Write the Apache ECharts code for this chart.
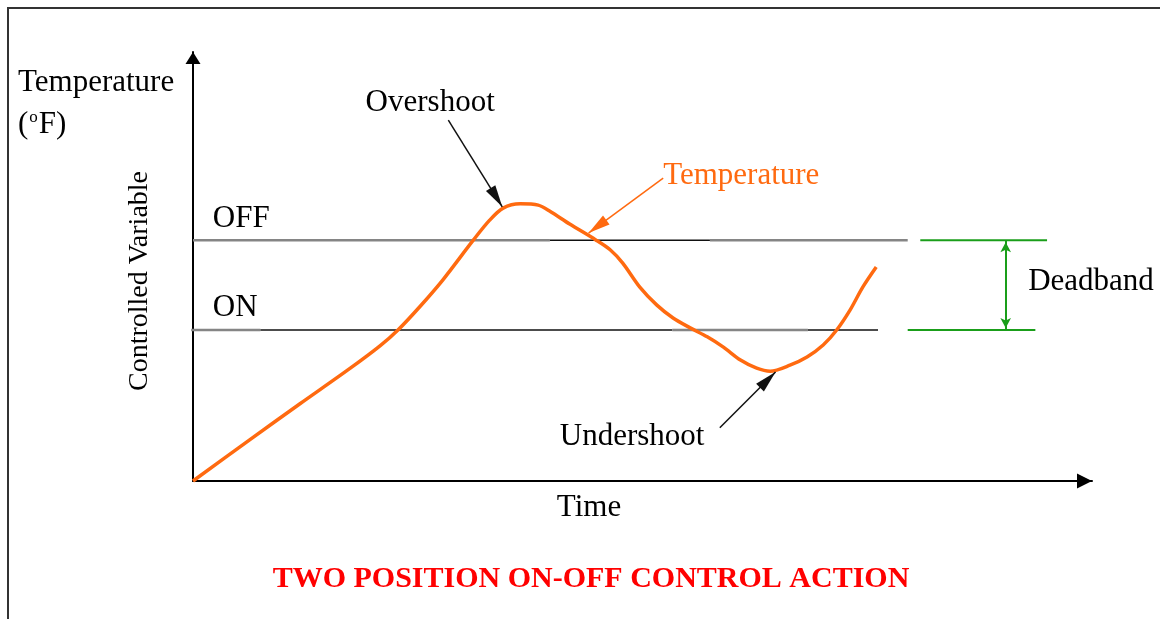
<!DOCTYPE html>
<html>
<head>
<meta charset="utf-8">
<script src="https://cdn.jsdelivr.net/npm/echarts@6/dist/echarts.min.js"></script>
<style>
html,body{margin:0;padding:0;background:#fff;}
#chart{width:1160px;height:619px;}
</style>
</head>
<body>
<div id="chart"></div>
<script>
// ---- data (arbitrary units: time 0..100, temperature 0..100) ----
const curveTime = [0, 6.3, 11.9, 17.5, 20.8, 22.8, 25.3, 27.8, 31.2, 33.0, 34.5, 36.4, 38.4, 39.7, 41.9, 44.8, 46.4, 47.8, 49.7, 51.6, 53.4, 55.3, 57.2, 59.0, 60.9, 62.7, 64.2, 66.4, 68.3, 70.1, 71.6, 73.1, 74.5, 76.0];
const curveTemp = [0, 9.6, 18.0, 26.3, 31.5, 35.2, 40.8, 46.9, 56.2, 60.8, 63.6, 64.6, 64.3, 62.9, 59.9, 56.2, 53.9, 50.8, 45.2, 41.0, 38.0, 35.7, 33.6, 31.2, 28.2, 26.3, 25.6, 27.0, 28.9, 31.7, 35.2, 39.9, 45.2, 49.9];

const offLevel = 56.1;
const onLevel = 35.2;
// break points along each set-point line (scan shading alternates grey / black)
const offBreaks = [0, 39.7, 57.5, 79.5];
const onBreaks = [-0.2, 7.5, 53.3, 68.4, 76.2];

// deadband marker
const deadbandOffSpan = [80.9, 95.0];
const deadbandOnSpan = [79.5, 93.7];
const deadbandArrowX = 90.4;

// annotation arrows: [fromX, fromY, toX, toY]
const overshootArrow = [28.4, 84.1, 34.4, 63.9];
const temperatureArrow = [52.3, 70.6, 44.0, 57.8];
const undershootArrow = [58.6, 12.4, 64.8, 25.4];

// annotation texts anchored in data units
const noteTexts = ['Overshoot', 'Temperature', 'Undershoot', 'OFF', 'ON', 'Deadband'];
const noteX = [19.2, 52.3, 40.8, 2.2, 2.2, 92.9];
const noteY = [88.1, 71.1, 10.3, 61.1, 40.3, 46.4];

const yTitle = 'Temperature';
const yName = 'Controlled Variable';
const xName = 'Time';
const chartTitle = 'TWO POSITION ON-OFF CONTROL ACTION';

// ---- build ----
const FONT = "'Liberation Serif', 'Times New Roman', serif";
const ORANGE = '#ff6a10';
const GREEN = '#1a9e1a';
const GREY = '#858585';
const BLACK = '#111';

const series = [];

function hSegs(breaks, level, startGrey) {
  for (let i = 0; i < breaks.length - 1; i++) {
    const grey = (i % 2 === 0) === startGrey;
    series.push({
      type: 'line', silent: true, symbol: 'none',
      data: [[breaks[i], level], [breaks[i + 1], level]],
      lineStyle: { color: grey ? GREY : BLACK, width: grey ? 2.5 : 1.5 },
      z: 2
    });
  }
}
hSegs(offBreaks, offLevel, true);
hSegs(onBreaks, onLevel, true);

// deadband green lines
series.push({
  type: 'line', silent: true, symbol: 'none',
  data: [[deadbandOffSpan[0], offLevel], [deadbandOffSpan[1], offLevel]],
  lineStyle: { color: GREEN, width: 2 }
});
series.push({
  type: 'line', silent: true, symbol: 'none',
  data: [[deadbandOnSpan[0], onLevel], [deadbandOnSpan[1], onLevel]],
  lineStyle: { color: GREEN, width: 2 }
});

// temperature curve
series.push({
  type: 'line', silent: true, symbol: 'none', smooth: 0.3,
  data: curveTime.map((t, i) => [t, curveTemp[i]]),
  lineStyle: { color: ORANGE, width: 3.5 },
  z: 5
});

function arrowItem(a, color, size) {
  return [
    { coord: [a[0], a[1]], symbol: 'none', lineStyle: { color: color, width: 1.5, type: 'solid' } },
    { coord: [a[2], a[3]], symbol: 'triangle', symbolSize: size, symbolOffset: [0, '50%'] }
  ];
}

// annotation arrows + deadband double arrow (markLine on an empty carrier series)
series.push({
  type: 'line', data: [], silent: true,
  markLine: {
    silent: true, animation: false,
    label: { show: false },
    symbol: ['none', 'triangle'],
    data: [
      arrowItem(overshootArrow, BLACK, [11, 22]),
      arrowItem(temperatureArrow, ORANGE, [11, 22]),
      arrowItem(undershootArrow, BLACK, [11, 22]),
      [
        { coord: [deadbandArrowX, offLevel], symbol: 'arrow', symbolSize: [8, 10], symbolOffset: [0, '20%'], lineStyle: { color: GREEN, width: 2, type: 'solid' } },
        { coord: [deadbandArrowX, onLevel], symbol: 'arrow', symbolSize: [8, 10], symbolOffset: [0, '20%'] }
      ]
    ],
    z: 6
  }
});

// annotation texts
series.push({
  type: 'scatter', silent: true, symbolSize: 0, clip: false,
  itemStyle: { opacity: 1 },
  data: noteTexts.map((txt, i) => ({
    value: [noteX[i], noteY[i]],
    label: {
      show: true, formatter: txt, position: [0, 0],
      align: 'left', verticalAlign: 'middle',
      fontFamily: FONT, fontSize: 31,
      color: txt === 'Temperature' ? ORANGE : '#000'
    }
  })),
  z: 7
});

const option = {
  animation: false,
  backgroundColor: '#fff',
  grid: { left: 193, right: 68, top: 52, bottom: 138, containLabel: false },
  xAxis: {
    type: 'value', min: 0, max: 100,
    splitLine: { show: false }, axisTick: { show: false }, axisLabel: { show: false },
    axisLine: { show: true, onZero: false, symbol: ['none', 'triangle'], symbolSize: [15, 15], symbolOffset: [0, -7.5], lineStyle: { color: '#000', width: 2 } }
  },
  yAxis: {
    type: 'value', min: 0, max: 100,
    splitLine: { show: false }, axisTick: { show: false }, axisLabel: { show: false },
    axisLine: { show: true, onZero: false, symbol: ['none', 'triangle'], symbolSize: [15, 12], symbolOffset: [0, -6], lineStyle: { color: '#000', width: 2 } }
  },
  graphic: [
    { type: 'rect', silent: true, shape: { x: 8, y: 8, width: 1300, height: 800 }, style: { fill: 'none', stroke: '#333', lineWidth: 2 } },
    { type: 'text', silent: true, x: 18, y: 83, style: { text: yTitle, font: "31px " + FONT, fill: '#000', textVerticalAlign: 'middle' } },
    { type: 'text', silent: true, x: 18, y: 125, style: {
        text: '({s|o}F)', font: "31px " + FONT, fill: '#000', textVerticalAlign: 'middle',
        rich: { s: { fontSize: 17, fontFamily: 'Liberation Serif', verticalAlign: 'top', padding: [0, 1, 10, 1] } }
      } },
    { type: 'text', silent: true, x: 140, y: 281, rotation: Math.PI / 2, style: { text: yName, font: "28px " + FONT, fill: '#000', textAlign: 'center', textVerticalAlign: 'middle' } },
    { type: 'text', silent: true, x: 589, y: 508, style: { text: xName, font: "31px " + FONT, fill: '#000', textAlign: 'center', textVerticalAlign: 'middle' } },
    { type: 'text', silent: true, x: 591, y: 579, style: { text: chartTitle, font: "bold 30px " + FONT, fill: '#ff0000', textAlign: 'center', textVerticalAlign: 'middle' } }
  ],
  series: series
};

const chart = echarts.init(document.getElementById('chart'), null, { renderer: 'canvas' });
chart.setOption(option);
</script>
</body>
</html>
